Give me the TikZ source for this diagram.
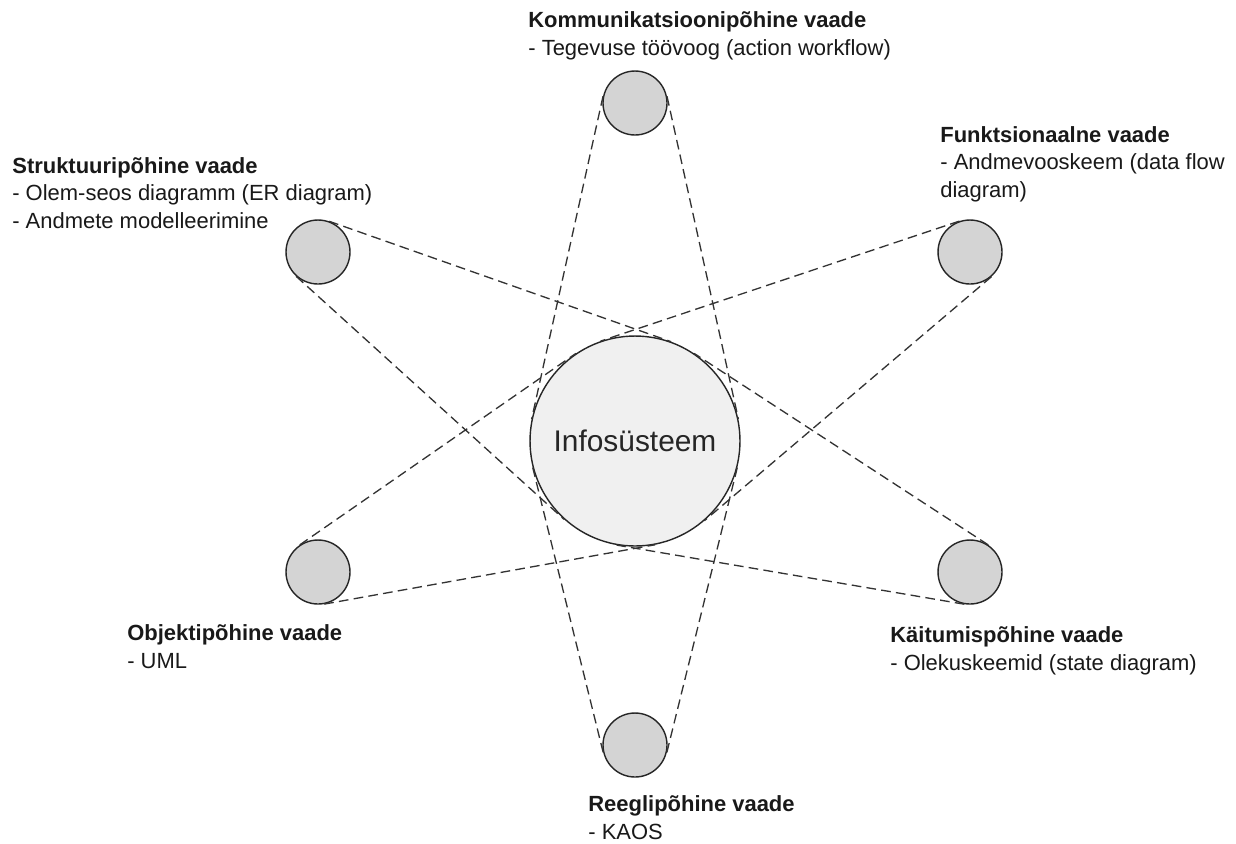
\documentclass[tikz,border=0pt]{standalone}
\usepackage{fontspec}
\setmainfont{Liberation Sans}
\usetikzlibrary{calc}

\definecolor{viewgray}{HTML}{D4D4D4}
\definecolor{coregray}{HTML}{F0F0F0}

\tikzset{
  view/.style={circle,draw=black!85,line width=0.8pt,fill=viewgray,minimum size=1.28cm,inner sep=0pt},
  core/.style={circle,draw=black!85,line width=0.8pt,fill=coregray,minimum size=4.2cm,inner sep=0pt,
    font=\fontsize{17}{20}\selectfont,text=black!85},
  orbit/.style={dash pattern=on 5.5pt off 3pt,line width=0.75pt,black!80},
  caption/.style={align=left,anchor=base west,inner sep=0pt,
    font=\fontsize{12.5}{15.4}\selectfont,text=black!90}
}

\begin{document}
\begin{tikzpicture}[x=0.02cm,y=0.02cm]
\fill[white] (0,0) rectangle (1236,-843);
\useasboundingbox (0,0) rectangle (1236,-843);

% infosysteem ja vaated
\node[core] (info) at (635,-441) {Infosüsteem};
\node[view] (kom) at (635,-103) {};
\node[view] (reg) at (635,-745) {};
\node[view] (str) at (318,-252) {};
\node[view] (fun) at (970,-252) {};
\node[view] (obj) at (318,-572) {};
\node[view] (kai) at (970,-572) {};

% puutujad vaatest keskele
\foreach \v in {kom,reg,str,fun,obj,kai}
  \draw[orbit] let \p1=($(info.center)-(\v.center)$),
    \n1={atan2(\y1,\x1)}, \n2={asin(1.46cm/veclen(\x1,\y1))},
    \n3={\n1+90+\n2}, \n4={\n1-90-\n2} in
    (\v.\n3) -- (info.\n3) (\v.\n4) -- (info.\n4);

% sildid (base = viimase rea alusjoon)
\node[caption] (komlbl) at (528,-55) {\textbf{Kommunikatsioonipõhine vaade}\\- Tegevuse töövoog (action workflow)};
\node[caption] (strlbl) at (12,-228) {\textbf{Struktuuripõhine vaade}\\- Olem-seos diagramm (ER diagram)\\- Andmete modelleerimine};
\node[caption] (funlbl) at (940,-197) {\textbf{Funktsionaalne vaade}\\- Andmevooskeem (data flow\\diagram)};
\node[caption] (objlbl) at (127,-668) {\textbf{Objektipõhine vaade}\\- UML};
\node[caption] (kailbl) at (890,-670) {\textbf{Käitumispõhine vaade}\\- Olekuskeemid (state diagram)};
\node[caption] (reglbl) at (588,-839) {\textbf{Reeglipõhine vaade}\\- KAOS};
\end{tikzpicture}
\end{document}
